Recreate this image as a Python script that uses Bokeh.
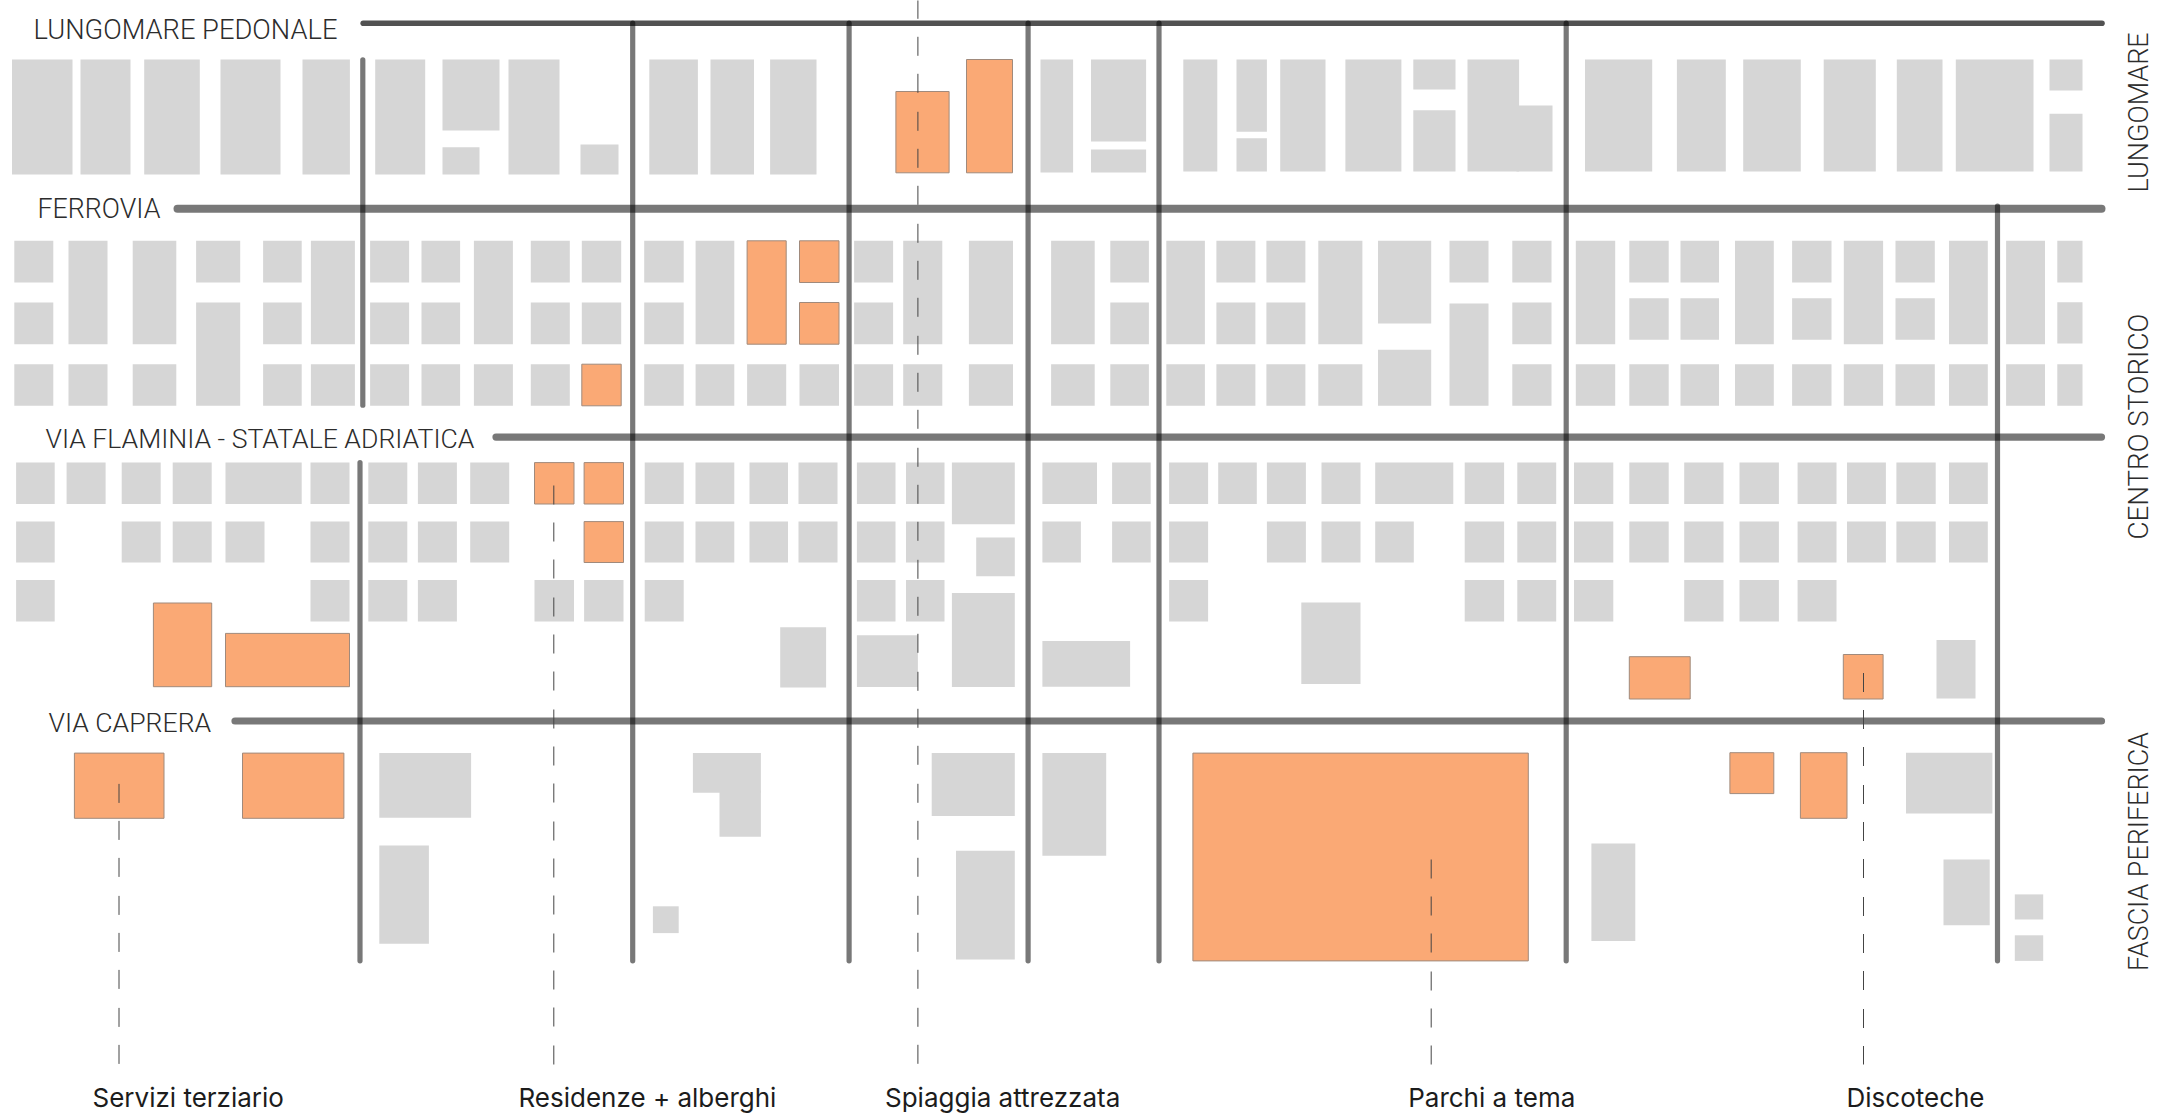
from bokeh.plotting import figure
from bokeh.models import Range1d
from bokeh.core.properties import value
from bokeh.embed import file_html
from bokeh.resources import INLINE

# Row bands (map units: top, bottom)
LM = (59, 174); LN = (59, 171)
R1 = (240.3, 282); R2 = (302, 343.7); R3 = (363.7, 405.3)
RT = (240.3, 343.7); R2B = (297.7, 339.3)
F1 = (462.1, 503.5); F2 = (521.1, 562); F3 = (579.6, 621)

gray_lungomare = [
    (11.5, 72, *LM), (80, 130, *LM), (143.7, 199.3, *LM), (220, 280, *LM), (302, 349.4, *LM),
    (374.7, 424.7, *LM), (442, 499, 59, 130), (442, 479, 146.7, 174), (508, 559, *LM),
    (580, 618, 144, 174), (648.8, 697.4, *LM), (710, 753.5, *LM), (769.6, 816, *LM),
    (1040, 1072.6, 59, 172), (1090.5, 1145.6, 59, 141), (1090.5, 1145.6, 149, 172),
    (1182.8, 1216.8, *LN), (1236, 1266.4, 59, 131.3), (1236, 1266.4, 137.7, 171),
    (1279.7, 1325, *LN), (1344.9, 1400.9, *LN), (1412.8, 1455, 59, 89), (1412.8, 1455, 109.7, 171),
    (1467, 1518.6, *LN), (1516, 1552, 105, 171),
    (1584.5, 1651.7, *LN), (1676.4, 1725.3, *LN), (1742.7, 1800.3, *LN), (1823.2, 1875.3, *LN),
    (1896.3, 1942, *LN), (1955.3, 2033, *LN), (2049, 2082, 59, 90), (2049, 2082, 113.3, 171),
]
orange_lungomare = [(895.4, 948.6, 91, 172.3), (966, 1012, 59, 172.3)]

gray_centro = [
    (13.8, 52.8, *R1), (13.8, 52.8, *R2), (13.8, 52.8, *R3),
    (68, 107, *RT), (68, 107, *R3),
    (132.2, 175.8, *RT), (132.2, 175.8, *R3),
    (195.6, 239.7, *R1), (195.6, 239.7, 302, 405.3),
    (262.6, 301.2, *R1), (262.6, 301.2, *R2), (262.6, 301.2, *R3),
    (310.4, 354.4, *RT), (310.4, 354.4, *R3),
    (369.6, 408.6, *R1), (369.6, 408.6, *R2), (369.6, 408.6, *R3),
    (421, 459.6, *R1), (421, 459.6, *R2), (421, 459.6, *R3),
    (473.4, 512.4, *RT), (473.4, 512.4, *R3),
    (530.3, 569.3, *R1), (530.3, 569.3, *R2), (530.3, 569.3, *R3),
    (581.3, 620.7, *R1), (581.3, 620.7, *R2),
    (643.7, 683.2, *R1), (643.7, 683.2, *R2), (643.7, 683.2, *R3),
    (695.1, 733.8, *RT), (695.1, 733.8, *R3),
    (746.6, 785.7, *R3), (799, 838.5, *R3),
    (853.6, 892.6, *R1), (853.6, 892.6, *R2), (853.6, 892.6, *R3),
    (902.7, 941.8, *RT), (902.7, 941.8, *R3),
    (968.4, 1012.5, *RT), (968.4, 1012.5, *R3),
    (1050.6, 1094.2, *RT), (1050.6, 1094.2, *R3),
    (1109.8, 1148.4, *R1), (1109.8, 1148.4, *R2), (1109.8, 1148.4, *R3),
    (1165.8, 1204.4, *RT), (1165.8, 1204.4, *R3),
    (1215.9, 1254.9, *R1), (1215.9, 1254.9, *R2), (1215.9, 1254.9, *R3),
    (1265.9, 1304.9, *R1), (1265.9, 1304.9, *R2), (1265.9, 1304.9, *R3),
    (1317.8, 1361.9, *RT), (1317.8, 1361.9, *R3),
    (1377.5, 1430.7, 240.3, 323), (1377.5, 1430.7, 349.3, 405.3),
    (1449, 1488, *R1), (1449, 1488, 303, 405.3),
    (1511.8, 1551, *R1), (1511.8, 1551, *R2), (1511.8, 1551, *R3),
    (1575.3, 1614.7, *RT), (1575.3, 1614.7, *R3),
    (1628.8, 1668.2, *R1), (1628.8, 1668.2, *R2B), (1628.8, 1668.2, *R3),
    (1680, 1718.5, *R1), (1680, 1718.5, *R2B), (1680, 1718.5, *R3),
    (1734.5, 1773.3, *RT), (1734.5, 1773.3, *R3),
    (1791.6, 1831, *R1), (1791.6, 1831, *R2B), (1791.6, 1831, *R3),
    (1843.3, 1882.6, *RT), (1843.3, 1882.6, *R3),
    (1895, 1934.3, *R1), (1895, 1934.3, *R2B), (1895, 1934.3, *R3),
    (1948.5, 1987.3, *RT), (1948.5, 1987.3, *R3),
    (2005.6, 2044.5, *RT), (2005.6, 2044.5, *R3),
    (2056.8, 2082, *R1), (2056.8, 2082, 301.7, 343), (2056.8, 2082, *R3),
]
orange_centro = [
    (581.3, 620.7, *R3), (746.6, 785.7, *RT), (799, 838.5, *R1), (799, 838.5, *R2),
]

gray_flaminia = [
    (15.6, 54.2, *F1), (15.6, 54.2, *F2), (15.6, 54.2, *F3), (66.1, 105.1, *F1),
    (121.2, 160.2, *F1), (121.2, 160.2, *F2), (172.2, 211.2, *F1), (172.2, 211.2, *F2),
    (225, 301.2, *F1), (225, 264, *F2),
    (310, 349, *F1), (310, 349, *F2), (310, 349, *F3),
    (367.8, 406.8, *F1), (367.8, 406.8, *F2), (367.8, 406.8, *F3),
    (417.4, 456.4, *F1), (417.4, 456.4, *F2), (417.4, 456.4, *F3),
    (469.7, 508.7, *F1), (469.7, 508.7, *F2),
    (534, 573.5, *F3), (583.6, 623, *F3),
    (644.2, 683.2, *F1), (644.2, 683.2, *F2), (644.2, 683.2, *F3),
    (695, 733.8, *F1), (695, 733.8, *F2), (749, 787.5, *F1), (749, 787.5, *F2),
    (798, 837, *F1), (798, 837, *F2),
    (856.4, 895, *F1), (856.4, 895, *F2), (856.4, 895, *F3),
    (905.5, 944, *F1), (905.5, 944, *F2), (905.5, 944, *F3),
    (951.4, 1014.3, 462.1, 523.8), (975.7, 1014.3, 537, 575.7), (951.4, 1014.3, 592.4, 686.6),
    (856.4, 917.4, 634.7, 686.6), (779.7, 825.6, 626.7, 687),
    (1041.9, 1096.5, *F1), (1041.9, 1080.4, *F2), (1111.6, 1150.2, *F1), (1111.6, 1150.2, *F2),
    (1041.9, 1129.6, 640.4, 686.2),
    (1168.6, 1207.6, *F1), (1168.6, 1207.6, *F2), (1168.6, 1207.6, *F3),
    (1217.7, 1256.3, *F1), (1266.4, 1305.4, *F1), (1266.4, 1305.4, *F2),
    (1321, 1360, *F1), (1321, 1360, *F2), (1374.7, 1452.8, *F1), (1374.7, 1413.3, *F2),
    (1300.8, 1360, 602, 683.5),
    (1464.2, 1503.6, *F1), (1464.2, 1503.6, *F2), (1464.2, 1503.6, *F3),
    (1516.8, 1555.7, *F1), (1516.8, 1555.7, *F2), (1516.8, 1555.7, *F3),
    (1573.5, 1612.8, *F1), (1573.5, 1612.8, *F2), (1573.5, 1612.8, *F3),
    (1628.8, 1668.2, *F1), (1628.8, 1668.2, *F2),
    (1683.7, 1723, *F1), (1683.7, 1723, *F2), (1683.7, 1723, *F3),
    (1739, 1778.4, *F1), (1739, 1778.4, *F2), (1739, 1778.4, *F3),
    (1797.1, 1836, *F1), (1797.1, 1836, *F2), (1797.1, 1836, *F3),
    (1846.5, 1885.4, *F1), (1846.5, 1885.4, *F2), (1895.9, 1935.2, *F1), (1895.9, 1935.2, *F2),
    (1948.5, 1987.3, *F1), (1948.5, 1987.3, *F2), (1936, 1975, 639.5, 698),
]
orange_flaminia = [
    (534, 573.5, *F1), (583.6, 623, *F1), (583.6, 623, *F2),
    (152.9, 211.2, 602.5, 686.2), (225, 349, 632.9, 686.2),
    (1628.8, 1689.7, 656.2, 698.5), (1842.8, 1882.6, 654, 698.5),
]

gray_fascia = [
    (378.8, 470.6, 752.6, 817.3), (378.8, 428.4, 845, 943.2), (652.4, 678.2, 905.8, 932.6),
    (692.4, 760.4, 752.6, 792.2), (719, 760.4, 790, 836.3),
    (931.2, 1014.3, 752.6, 815.6), (955.5, 1014.3, 850.3, 959), (1041.9, 1105.7, 752.6, 855.2),
    (1590.9, 1634.8, 842.9, 940.6), (1905.5, 1991.9, 752.2, 812.9), (1943, 1989.2, 859.1, 924.7),
    (2014.3, 2042.7, 893.9, 919), (2014.3, 2042.7, 934.8, 960.4),
]
orange_fascia = [
    (73.9, 163.5, 752.6, 817.8), (242, 343.4, 752.6, 817.8), (1192.4, 1527.8, 752.6, 960.4),
    (1729.4, 1773.3, 752.2, 793.1), (1799.9, 1846.5, 752.2, 817.8),
]

# Roads: x0, x1, y
road_names = ["LUNGOMARE PEDONALE", "FERROVIA", "VIA FLAMINIA - STATALE ADRIATICA", "VIA CAPRERA"]
road_start = [362.7, 177, 495.5, 234.5]
road_end = [2101.5, 2101, 2101, 2101]
road_y = [22.7, 208.3, 436.6, 720.5]
road_width = [5.6, 8, 7.2, 7.2]
road_alpha = [0.68, 0.53, 0.53, 0.53]
label_x = [33, 37, 45, 48]
label_y = [39.3, 218, 447.6, 731.5]
label_px = [27.3, 26.8, 26.6, 26.6]

# Cross streets: x, y0, y1
cross_x = [362.3, 359.5, 632.2, 848.6, 1027.6, 1158.5, 1565.7, 1997]
cross_y0 = [59.3, 462, 22.7, 22.7, 22.7, 22.7, 22.7, 205.5]
cross_y1 = [404.7, 960.3, 960.3, 960.3, 960.3, 960.3, 960.3, 960.3]

# Dashed leaders: x, y0, y1
leader_x = [118.5, 553.3, 917.4, 1430.7, 1863]
leader_y0 = [783.4, 485, -0.7, 859, 672.5]
leader_y1 = [1064, 1064, 1064, 1064, 1064]

zone_names = ["LUNGOMARE", "CENTRO STORICO", "FASCIA PERIFERICA"]
zone_x = [2148, 2148, 2148]
zone_y = [192, 539, 970.5]
zone_px = [27, 27.7, 26.9]

use_names = ["Servizi terziario", "Residenze + alberghi", "Spiaggia attrezzata", "Parchi a tema", "Discoteche"]
use_x = [92, 518, 884.5, 1407.7, 1846]
use_y = [1107, 1107, 1107, 1107, 1107]

W, H = 2157, 1120
p = figure(width=W, height=H, output_backend="svg", toolbar_location=None,
           x_range=Range1d(0, W), y_range=Range1d(H, 0), min_border=0)
p.axis.visible = False
p.grid.visible = False
p.outline_line_color = None
p.background_fill_color = "white"


def blocks(rows, **kw):
    p.quad(left=[r[0] for r in rows], right=[r[1] for r in rows],
           top=[r[2] for r in rows], bottom=[r[3] for r in rows], **kw)


gray = gray_lungomare + gray_centro + gray_flaminia + gray_fascia
orange = orange_lungomare + orange_centro + orange_flaminia + orange_fascia
blocks(gray, fill_color="#d6d6d6", line_color=None)
blocks(orange, fill_color="#faa975", line_color="#a08a7c", line_width=1)

p.segment(x0=road_start, x1=road_end, y0=road_y, y1=road_y, line_color="black",
          line_width=road_width, line_alpha=road_alpha, line_cap="round")
p.segment(x0=cross_x, x1=cross_x, y0=cross_y0, y1=cross_y1, line_color="black",
          line_width=5.2, line_alpha=0.53, line_cap="round")
for x, a, b in zip(leader_x, leader_y0, leader_y1):
    p.line([x, x], [a, b], line_color="#444444", line_width=1, line_dash="19 18 19 18 19 19")

LIGHT = value("Roboto Light, Roboto")
for name, x, y, size in zip(road_names, label_x, label_y, label_px):
    p.text(x=[x], y=[y], text=[name], text_font=LIGHT, text_font_size=f"{size}px", y_offset=-9.6,
           text_color="#2c2c2c", text_align="left", text_baseline="alphabetic")
for name, x, y, size in zip(zone_names, zone_x, zone_y, zone_px):
    p.text(x=[x], y=[y], text=[name], text_font=LIGHT, text_font_size=f"{size}px", angle=1.5708,
           x_offset=-9.6, text_color="#2c2c2c", text_align="left", text_baseline="alphabetic")
p.text(x=use_x, y=use_y, text=use_names, text_font=value("Inter"), text_font_size="26px", y_offset=-9.6,
       text_color="#1c1c1c", text_align="left", text_baseline="alphabetic")

open("out.html", "w").write(file_html(p, INLINE))
